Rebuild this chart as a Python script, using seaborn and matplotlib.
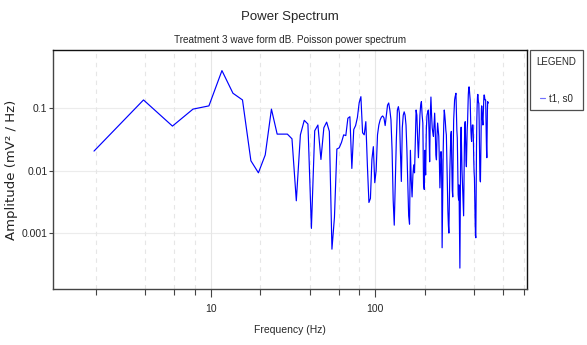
import numpy as np
import pandas as pd
import matplotlib
matplotlib.use('Agg')
import matplotlib.pyplot as plt
import seaborn as sns

# spectrum bins: 1000 Hz sampling, 512 point FFT
freq_step = 1000 / 512
n_bins = 250

amplitude = [
    0.0204, 0.133, 0.051, 0.095, 0.107, 0.39, 0.17, 0.133, 0.0143, 0.0092,
    0.0177, 0.095, 0.038, 0.038, 0.038, 0.032, 0.0033, 0.037, 0.063, 0.055,
    0.0012, 0.043, 0.053, 0.015, 0.048, 0.059, 0.042, 0.00056, 0.0018, 0.022,
    0.023, 0.028, 0.037, 0.036, 0.068, 0.072, 0.0108, 0.045, 0.052, 0.07,
    0.12, 0.15, 0.040, 0.037, 0.06, 0.012, 0.0031, 0.0036, 0.015, 0.024,
    0.0064, 0.010, 0.037, 0.053, 0.064, 0.071, 0.074, 0.069, 0.052, 0.076,
    0.11, 0.119, 0.092, 0.064, 0.021, 0.0034, 0.00135, 0.0071, 0.031, 0.092,
    0.104, 0.082, 0.021, 0.0067, 0.048, 0.076, 0.086, 0.076, 0.053, 0.021,
    0.0059, 0.0019, 0.0014, 0.021, 0.0071, 0.0038, 0.0085, 0.0123, 0.0092, 0.031,
    0.092, 0.076, 0.031, 0.016, 0.037, 0.076, 0.11, 0.125, 0.076, 0.057,
    0.006, 0.005, 0.021, 0.0085, 0.044, 0.076, 0.085, 0.092, 0.044, 0.0138,
    0.076, 0.148, 0.076, 0.048, 0.040, 0.035, 0.053, 0.082, 0.044, 0.0178,
    0.0148, 0.037, 0.057, 0.044, 0.035, 0.0148, 0.0053, 0.0103, 0.020, 0.0148,
    0.00059, 0.0034, 0.021, 0.053, 0.092, 0.076, 0.060, 0.044, 0.037, 0.0148,
    0.0056, 0.0023, 0.00135, 0.00101, 0.0034, 0.0103, 0.021, 0.037, 0.042, 0.0123,
    0.0049, 0.0038, 0.021, 0.064, 0.092, 0.133, 0.148, 0.16, 0.17, 0.092,
    0.044, 0.033, 0.0103, 0.0041, 0.0034, 0.0059, 0.00112, 0.00028, 0.0034, 0.031,
    0.049, 0.021, 0.0103, 0.0066, 0.0041, 0.0028, 0.0019, 0.0071, 0.0255, 0.053,
    0.06, 0.031, 0.0148, 0.0115, 0.021, 0.044, 0.057, 0.092, 0.16, 0.2,
    0.215, 0.19, 0.16, 0.133, 0.076, 0.044, 0.033, 0.029, 0.044, 0.053,
    0.053, 0.053, 0.031, 0.0148, 0.0094, 0.0076, 0.0034, 0.0016, 0.00093, 0.00085,
    0.0049, 0.023, 0.064, 0.11, 0.15, 0.163, 0.14, 0.12, 0.119, 0.064,
    0.0255, 0.0103, 0.0071, 0.0066, 0.0148, 0.044, 0.092, 0.107, 0.092, 0.069,
    0.060, 0.053, 0.076, 0.11, 0.148, 0.16, 0.155, 0.14, 0.133, 0.133,
    0.133, 0.064, 0.037, 0.021, 0.016, 0.044, 0.092, 0.125, 0.119, 0.119,
]

x_major = [10, 100]
x_minor = [2, 4, 6, 8, 20, 40, 60, 80, 200, 400, 600, 800]
y_major = [0.001, 0.01, 0.1]
y_labels = ['0.001', '0.01', '0.1']

freqs = freq_step * np.arange(1, n_bins + 1)
df = pd.DataFrame({'Frequency': freqs, 'Amplitude': amplitude})

sns.set_style('white')
plt.rcParams['font.family'] = ['Liberation Sans', 'DejaVu Sans']

fig = plt.figure(figsize=(5.87, 3.45), dpi=100)
ax = fig.add_axes([0.0903, 0.1623, 0.8075, 0.6928])

ax.set_xscale('log')
ax.set_yscale('log')
ax.set_xlim(1.1, 840)
ax.set_ylim(1.3e-4, 0.83)

# grid
for v in y_major:
    ax.axhline(v, color='#ececec', lw=0.8, zorder=0)
for v in x_major:
    ax.axvline(v, color='#e6e6e6', lw=0.8, zorder=0)
for v in x_minor:
    ax.axvline(v, color='#e6e6e6', lw=0.8, ls=(0, (4, 4)), zorder=0)

sns.lineplot(data=df, x='Frequency', y='Amplitude', ax=ax, color='#0000ff',
             lw=0.85, estimator=None, sort=False, label='t1, s0')

ax.set_xticks(x_major)
ax.set_xticklabels(['10', '100'])
ax.set_xticks(x_minor, minor=True)
ax.set_xticklabels([], minor=True)
ax.set_yticks(y_major)
ax.set_yticklabels(y_labels)
ax.yaxis.set_minor_locator(matplotlib.ticker.NullLocator())
ax.tick_params(axis='x', which='major', length=6, width=0.8, color='#444444',
               labelsize=7.5, pad=5)
ax.tick_params(axis='x', which='minor', length=4, width=0.8, color='#444444')
ax.tick_params(axis='y', which='major', length=3, width=0.8, color='#444444',
               labelsize=7.5, pad=1)
ax.tick_params(bottom=True, left=True, which='both')

for side in ['left', 'bottom']:
    ax.spines[side].set_color('#444444')
    ax.spines[side].set_linewidth(1.0)
for side in ['top', 'right']:
    ax.spines[side].set_color('#111111')
    ax.spines[side].set_linewidth(1.0)

ax.set_xlabel('Frequency (Hz)', fontsize=7.5, labelpad=8)
ax.set_ylabel('Amplitude (mV² / Hz)', fontsize=9.5, family='DejaVu Sans',
              color='#222222')
ax.yaxis.set_label_coords(-0.074, 0.5)

fig.text(0.494, 0.950, 'Power Spectrum', ha='center', va='center', fontsize=9.5)
fig.text(0.494, 0.884, 'Treatment 3 wave form dB. Poisson power spectrum',
         ha='center', va='center', fontsize=7.2)

leg = ax.legend(loc='upper left', bbox_to_anchor=(1.006, 1.0), borderaxespad=0,
                title='LEGEND', fontsize=7, title_fontsize=7, handlelength=0.5,
                handletextpad=0.4, borderpad=0.7, labelspacing=0.5,
                fancybox=False, frameon=True, edgecolor='#222222')
leg.get_frame().set_linewidth(0.9)
leg.get_lines()[0].set_color('#7070ff')
leg._legend_box.sep = 19

fig.savefig('out.png', dpi=100)
